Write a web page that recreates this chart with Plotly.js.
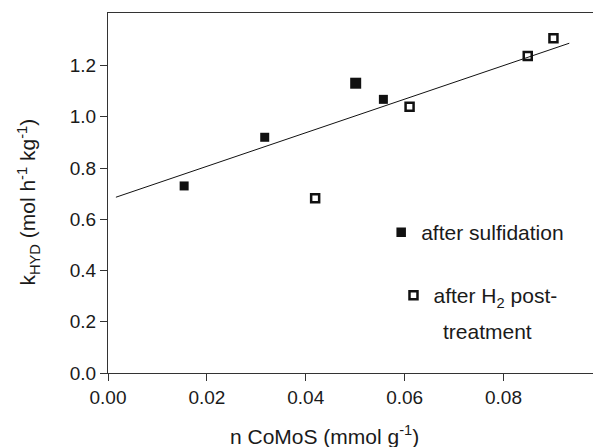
<!DOCTYPE html>
<html>
<head>
<meta charset="utf-8">
<script src="https://cdn.plot.ly/plotly-3.0.1.min.js"></script>
<style>html,body{margin:0;padding:0;background:#fff;}#chart{width:593px;height:447px;}</style>
</head>
<body>
<div id="chart"></div>
<script>
// Data
const sulfX = [0.0154, 0.0317, 0.0501, 0.0557];
const sulfY = [0.730, 0.920, 1.131, 1.068];
const h2X = [0.0419, 0.0610, 0.0849, 0.0901];
const h2Y = [0.682, 1.039, 1.237, 1.306];
const fitX = [0.0016, 0.0933];
const fitY = [0.686, 1.287];
const xTicks = [0.00, 0.02, 0.04, 0.06, 0.08];
const yTicks = [0.0, 0.2, 0.4, 0.6, 0.8, 1.0, 1.2];

const FONT = '"Liberation Sans", Arial, sans-serif';
const INK = '#111111';
const TXT = '#1a1a1a';

const traces = [
  {
    x: fitX, y: fitY, mode: 'lines', showlegend: false,
    line: {color: INK, width: 1}, hoverinfo: 'skip'
  },
  {
    x: sulfX, y: sulfY, mode: 'markers', name: 'after sulfidation', legend: 'legend',
    marker: {symbol: 'square', size: [9, 9, 11, 9], color: INK, opacity: 1, line: {width: 0}}
  },
  {
    x: h2X, y: h2Y, mode: 'markers', name: 'after H<sub>2</sub> post-', legend: 'legend2',
    marker: {symbol: 'square-open', size: 8, color: INK, opacity: 1, line: {width: 2.5, color: INK}}
  }
];

const layout = {
  width: 593, height: 447,
  margin: {l: 107.5, r: 0, t: 13, b: 74},
  paper_bgcolor: '#ffffff', plot_bgcolor: '#ffffff',
  font: {family: FONT, color: TXT, size: 19},
  showlegend: true,
  legend: {
    x: 0.588, y: 0.39, xanchor: 'left', yanchor: 'middle',
    bgcolor: 'rgba(0,0,0,0)', font: {family: FONT, size: 21, color: TXT},
    itemsizing: 'trace', indentation: -12
  },
  legend2: {
    x: 0.601, y: 0.215, xanchor: 'left', yanchor: 'middle',
    bgcolor: 'rgba(0,0,0,0)', font: {family: FONT, size: 21, color: TXT},
    itemsizing: 'trace', indentation: -6
  },
  annotations: [
    {
      xref: 'paper', yref: 'paper', x: 0.783, y: 0.115, xanchor: 'center', yanchor: 'middle',
      text: 'treatment', showarrow: false, font: {family: FONT, size: 21, color: TXT}
    },
    {
      xref: 'paper', yref: 'paper', x: 0.447, y: -0.172, xanchor: 'center', yanchor: 'middle',
      text: 'n CoMoS (mmol g<sup>-1</sup>)', showarrow: false, font: {family: FONT, size: 21, color: TXT}
    },
    {
      xref: 'paper', yref: 'paper', x: -0.1658, y: 0.475, xanchor: 'center', yanchor: 'middle',
      textangle: -90,
      text: 'k<sub>HYD</sub> (mol h<sup>-1</sup> kg<sup>-1</sup>)', showarrow: false, font: {family: FONT, size: 21, color: TXT}
    }
  ],
  xaxis: {
    range: [0, 0.0981], tickvals: xTicks, ticktext: xTicks.map(v => v.toFixed(2)),
    ticks: 'outside', ticklen: 7, tickwidth: 1, tickcolor: '#333333',
    showline: true, linecolor: '#333333', linewidth: 1, mirror: true,
    showgrid: false, zeroline: false,
    tickfont: {family: FONT, size: 19, color: TXT}
  },
  yaxis: {
    range: [0, 1.405], tickvals: yTicks, ticktext: yTicks.map(v => v.toFixed(1)),
    ticks: 'outside', ticklen: 7, tickwidth: 1, tickcolor: '#333333',
    showline: true, linecolor: '#333333', linewidth: 1, mirror: false,
    showgrid: false, zeroline: false,
    tickfont: {family: FONT, size: 19, color: TXT}
  }
};

Plotly.newPlot('chart', traces, layout, {staticPlot: true, displayModeBar: false});
</script>
</body>
</html>
